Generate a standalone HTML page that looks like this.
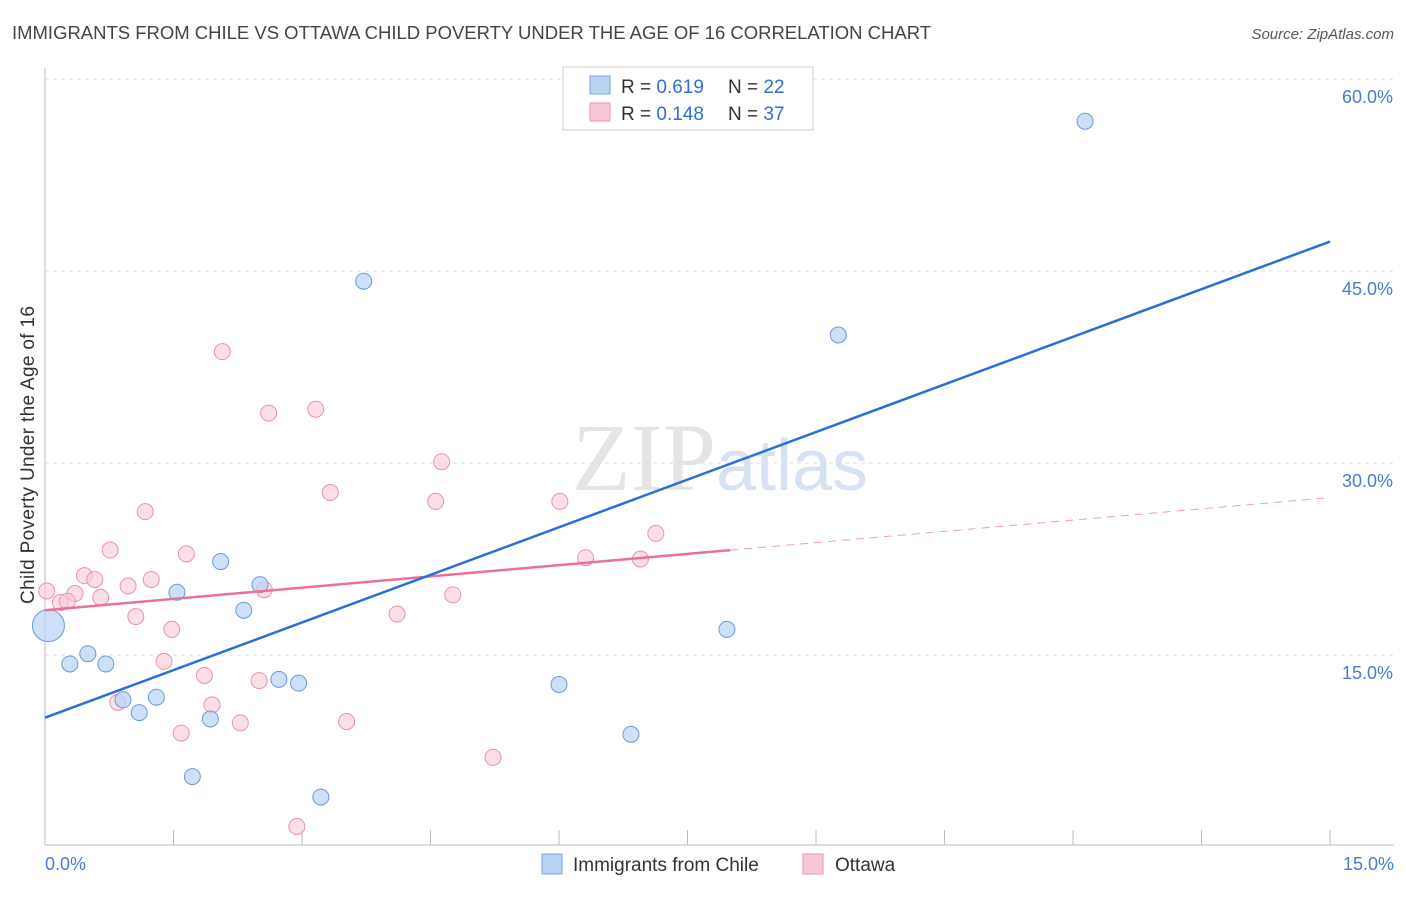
<!DOCTYPE html>
<html><head><meta charset="utf-8"><style>
body{margin:0;background:#fff;font-family:"Liberation Sans",sans-serif;}
svg text{font-family:"Liberation Sans",sans-serif;}
</style></head><body>
<svg id="chart" width="1406" height="892">
<text x="12" y="39" font-size="18" fill="#444" textLength="919" lengthAdjust="spacingAndGlyphs">IMMIGRANTS FROM CHILE VS OTTAWA CHILD POVERTY UNDER THE AGE OF 16 CORRELATION CHART</text>
<text x="1394" y="39" font-size="15" fill="#555" text-anchor="end" font-style="italic">Source: ZipAtlas.com</text>
<text x="720" y="490" font-size="96" fill="#e4e4e4" text-anchor="middle" font-family="Liberation Serif"><tspan font-family="Liberation Serif">ZIP</tspan><tspan font-family="Liberation Sans" fill="#d6e2f3" font-size="72">atlas</tspan></text>
<g id="grid"></g>
<g id="axes"></g>
<g id="marks"></g>
<text transform="translate(34,455) rotate(-90)" font-size="19" fill="#333" text-anchor="middle" textLength="298">Child Poverty Under the Age of 16</text>
<g>
<rect x="563" y="67" width="250" height="63" fill="#fff" stroke="#ccc"/>
<rect x="590" y="76" width="20" height="18" fill="#b9d3f5" stroke="#7aa6e0"/>
<text x="621" y="93" font-size="19" fill="#333">R = <tspan fill="#2f6fd6">0.619</tspan></text>
<text x="728" y="93" font-size="19" fill="#333">N = <tspan fill="#2f6fd6">22</tspan></text>
<rect x="590" y="103" width="20" height="18" fill="#f9c8d6" stroke="#e893ad"/>
<text x="621" y="120" font-size="19" fill="#333">R = <tspan fill="#2f6fd6">0.148</tspan></text>
<text x="728" y="120" font-size="19" fill="#333">N = <tspan fill="#2f6fd6">37</tspan></text>
</g>
<g>
<rect x="542" y="854" width="20" height="20" fill="#b9d3f5" stroke="#7aa6e0"/>
<text x="573" y="871" font-size="19" fill="#333">Immigrants from Chile</text>
<rect x="803" y="854" width="20" height="20" fill="#f9c8d6" stroke="#e893ad"/>
<text x="835" y="871" font-size="19" fill="#333">Ottawa</text>
</g>
</svg>
<script>
const yTicks=[15,30,45,60];
const yTickLabels=["15.0%","30.0%","45.0%","60.0%"];
const xTickCount=[0,1.5,3,4.5,6,7.5,9,10.5,12,13.5,15];
const chileX=[0.04,0.29,0.50,0.71,0.91,1.10,1.30,1.54,1.72,1.93,2.05,2.32,2.51,2.73,2.96,3.22,3.72,6.00,6.84,7.96,9.26,12.14];
const chileY=[17.3,14.3,15.1,14.3,11.5,10.5,11.7,19.9,5.5,10.0,22.3,18.5,20.5,13.1,12.8,3.9,44.2,12.7,8.8,17.0,40.0,56.7];
const ottX=[0.02,0.18,0.35,0.46,0.26,0.58,0.65,0.76,0.85,0.97,1.06,1.17,1.24,1.39,1.48,1.59,1.65,1.86,1.95,2.07,2.28,2.50,2.56,2.61,2.94,3.16,3.33,3.52,4.11,4.56,4.63,4.76,5.23,6.01,6.31,6.95,7.13];
const ottY=[20.0,19.1,19.8,21.2,19.2,20.9,19.5,23.2,11.3,20.4,18.0,26.2,20.9,14.5,17.0,8.9,22.9,13.4,11.1,38.7,9.7,13.0,20.1,33.9,1.6,34.2,27.7,9.8,18.2,27.0,30.1,19.7,7.0,27.0,22.6,22.5,24.5];
const chileLine=[10.1,47.3];
const ottLine=[18.5,27.3];
const ottSolidEnd=8.0;
const NS="http://www.w3.org/2000/svg";
const sx=v=>45+v*85.67, sy=v=>847-v*12.8;
function mk(t,a,p){const e=document.createElementNS(NS,t);for(const k in a)e.setAttribute(k,a[k]);p.appendChild(e);return e;}
const grid=document.getElementById('grid'),axes=document.getElementById('axes'),marks=document.getElementById('marks');
yTicks.forEach((v,i)=>{
 const l=mk('line',{x1:45,x2:1394,y1:sy(v),y2:sy(v),stroke:'#ddd','stroke-dasharray':'4,4'},grid);
 
 
 const t=mk('text',{x:1393,y:sy(v)+24,'font-size':18,fill:'#4a7bd0','text-anchor':'end'},grid);
 t.textContent=yTickLabels[i];
 
 
});
mk('line',{x1:45,x2:45,y1:68,y2:845,stroke:'#bbb'},axes);
mk('line',{x1:45,x2:1394,y1:845,y2:845,stroke:'#bbb'},axes);
xTickCount.forEach(v=>{mk('line',{x1:sx(v),x2:sx(v),y1:830,y2:845,stroke:'#bbb'},axes);});
let t0=mk('text',{x:45,y:870,'font-size':18,fill:'#4a7bd0'},axes);t0.textContent='0.0%';


let t1=mk('text',{x:1394,y:870,'font-size':18,fill:'#4a7bd0','text-anchor':'end'},axes);t1.textContent='15.0%';


ottX.forEach((x,i)=>{const c=mk('circle',{cx:sx(x),cy:sy(ottY[i]),r:8,fill:'#f9c8d6','fill-opacity':0.6,stroke:'#e893ad','stroke-width':1},marks);
 
 });
chileX.forEach((x,i)=>{const c=mk('circle',{cx:sx(x),cy:sy(chileY[i]),r:i==0?16:8,fill:'#b9d3f5','fill-opacity':0.7,stroke:'#6b9ad8','stroke-width':1},marks);
 
 });
const ol=v=>ottLine[0]+(ottLine[1]-ottLine[0])*v/15;
let p1=mk('line',{x1:sx(0),y1:sy(ol(0)),x2:sx(ottSolidEnd),y2:sy(ol(ottSolidEnd)),stroke:'#e8709a','stroke-width':2.5},marks);


let p2=mk('line',{x1:sx(ottSolidEnd),y1:sy(ol(ottSolidEnd)),x2:sx(15),y2:sy(ol(15)),stroke:'#e8a0b8','stroke-width':1,'stroke-dasharray':'8,6'},marks);


let b=mk('line',{x1:sx(0),y1:sy(chileLine[0]),x2:sx(15),y2:sy(chileLine[1]),stroke:'#2a6fd6','stroke-width':2.5},marks);


</script>
</body></html>
